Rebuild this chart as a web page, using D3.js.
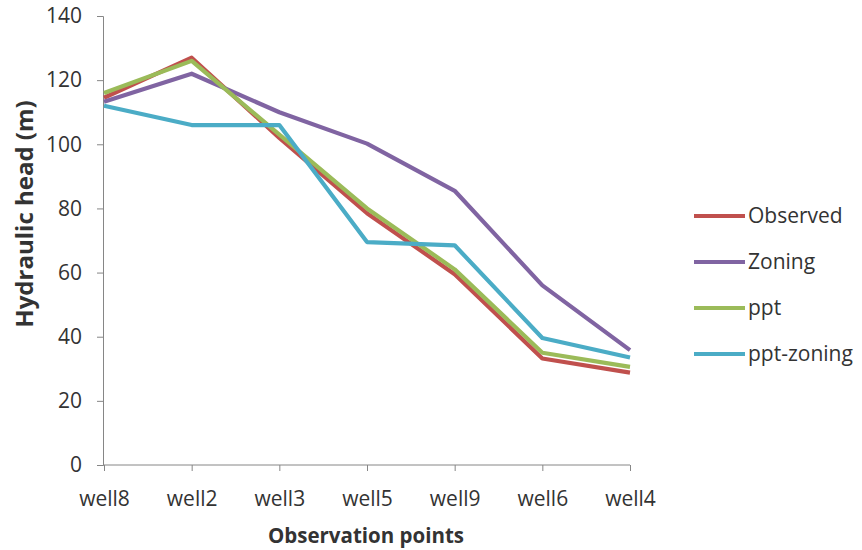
<!DOCTYPE html>
<html><head><meta charset="utf-8">
<script src="https://cdn.jsdelivr.net/npm/d3@7/dist/d3.min.js"></script>
<style>body{margin:0;background:#fff;} text{font-family:"Open Sans",sans-serif;fill:#333;}</style>
</head><body><svg id="c" width="862" height="550"></svg>
<script>
const categories = ["well8","well2","well3","well5","well9","well6","well4"];
const observed   = [114.5,127,102,78.5,59.5,33.2,28.8];
const zoning     = [113.3,122,110,100.2,85.5,56,35.8];
const ppt        = [116,126,103,80,61,35,30.6];
const pptZoning  = [112,106,106,69.5,68.5,39.6,33.5];
const yTicks = [0,20,40,60,80,100,120,140];
const seriesNames = ["Observed","Zoning","ppt","ppt-zoning"];
const seriesColors = ["#C0504D","#8064A2","#9BBB59","#4BACC6"];
const seriesData = [observed, zoning, ppt, pptZoning];

(function(){
const svg = d3.select("#c");
const pLeft = 104, pRight = 630, pTop = 16, pBottom = 465;
const x = d3.scalePoint().domain(categories).range([pLeft, pRight]);
const y = d3.scaleLinear().domain([0,140]).range([pBottom, pTop]);

const yAxis = svg.append("g").attr("transform",`translate(${pLeft-1},0)`)
  .call(d3.axisLeft(y).tickValues(yTicks).tickSize(6).tickPadding(15));
yAxis.select(".domain").attr("stroke","#868686");
yAxis.selectAll(".tick line").attr("stroke","#868686");
yAxis.selectAll(".tick text").attr("font-size",21).attr("fill","#333").style("font-family","Open Sans");

const xAxis = svg.append("g").attr("transform",`translate(0,${pBottom})`)
  .call(d3.axisBottom(x).tickSize(6).tickPadding(20).tickSizeOuter(0));
xAxis.select(".domain").attr("stroke","#868686").attr("d",`M${pLeft-1},0H${pRight}`);
xAxis.selectAll(".tick line").attr("stroke","#868686");
xAxis.selectAll(".tick text").attr("font-size",21).attr("fill","#333").attr("dy","0.71em").style("font-family","Open Sans");

const line = d3.line().x((d,i)=>x(categories[i])).y(d=>y(d));
seriesData.forEach((s,k)=>{
  svg.append("path").datum(s).attr("d",line).attr("fill","none")
    .attr("stroke",seriesColors[k]).attr("stroke-width",4.2).attr("stroke-linejoin","round");
});

svg.append("text").attr("transform","translate(33,214) rotate(-90)")
  .attr("text-anchor","middle").attr("font-size",24).attr("font-weight","bold").attr("fill","#111")
  .text("Hydraulic head (m)");
svg.append("text").attr("x",366).attr("y",543).attr("text-anchor","middle")
  .attr("font-size",20.5).attr("font-weight","bold").attr("fill","#111").text("Observation points");

const legY = [216,262,308,354];
seriesNames.forEach((n,k)=>{
  svg.append("line").attr("x1",694).attr("x2",745).attr("y1",legY[k]).attr("y2",legY[k])
    .attr("stroke",seriesColors[k]).attr("stroke-width",4.2);
  svg.append("text").attr("x",748).attr("y",legY[k]).attr("dy","0.35em")
    .attr("font-size",21).attr("fill","#333").text(n);
});
})();
</script></body></html>
